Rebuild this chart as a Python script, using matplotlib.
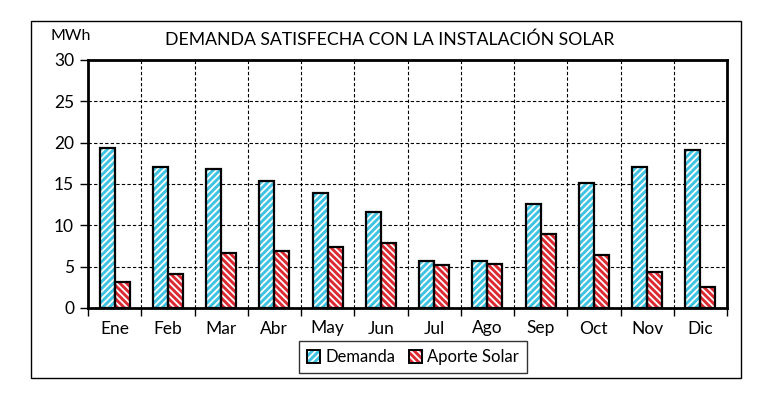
import matplotlib
matplotlib.use("Agg")
import matplotlib.pyplot as plt
from matplotlib.patches import Rectangle
from matplotlib.legend_handler import HandlerBase
import numpy as np

plt.rcParams['font.family'] = ['Lato', 'DejaVu Sans']
plt.rcParams['hatch.linewidth'] = 1.3

months = ["Ene", "Feb", "Mar", "Abr", "May", "Jun", "Jul", "Ago", "Sep", "Oct", "Nov", "Dic"]
demanda = [19.4, 17.0, 16.8, 15.4, 13.9, 11.65, 5.7, 5.7, 12.6, 15.15, 17.05, 19.15]
aporte = [3.2, 4.1, 6.6, 6.9, 7.4, 7.9, 5.2, 5.35, 9.0, 6.4, 4.3, 2.55]
series_names = ["Demanda", "Aporte Solar"]
yticks = [0, 5, 10, 15, 20, 25, 30]

W, H = 779, 417
fig = plt.figure(figsize=(W / 100, H / 100), dpi=100)

# outer frame
fig.patches.append(Rectangle((31 / W, 1 - 378 / H), 710 / W, 357 / H, transform=fig.transFigure,
                             fill=False, edgecolor='black', lw=1.0))

ax = fig.add_axes([88 / W, 1 - 308 / H, (727 - 88) / W, (308 - 60) / H])

x = np.arange(len(months))
bw = 0.28
cyan = '#3EC3E2'
red = '#DC2A32'
hatch_d = '/////'
hatch_a = '\\\\\\\\\\'

ax.bar(x - bw / 2, demanda, bw, color=cyan, edgecolor='white', hatch=hatch_d, lw=0, zorder=3)
ax.bar(x - bw / 2, demanda, bw, fill=False, edgecolor='black', lw=1.6, zorder=4)
ax.bar(x + bw / 2, aporte, bw, color=red, edgecolor='white', hatch=hatch_a, lw=0, zorder=3)
ax.bar(x + bw / 2, aporte, bw, fill=False, edgecolor='black', lw=1.6, zorder=4)

ax.set_xlim(-0.5, len(months) - 0.5)
ax.set_ylim(0, 30)
ax.set_yticks(yticks)
ax.set_yticklabels([str(v) for v in yticks], fontsize=12.5)
ax.set_xticks(x)
ax.set_xticklabels(months, fontsize=12.5)
ax.tick_params(axis='x', which='major', length=0, pad=9)
ax.set_xticks(np.arange(-0.5, len(months)), minor=True)
ax.tick_params(axis='x', which='minor', length=6, width=1.0, direction='out')
ax.tick_params(axis='y', length=6, width=1.0, direction='out', pad=4)

for v in yticks[1:-1]:
    ax.axhline(v, color='black', lw=0.8, ls=(0, (3, 2)), zorder=1)
for b in np.arange(0.5, len(months) - 0.5):
    ax.axvline(b, color='black', lw=0.8, ls=(0, (3, 2)), zorder=1)

for s in ax.spines.values():
    s.set_linewidth(2.0)

fig.text(390 / W, 1 - 40 / H, "DEMANDA SATISFECHA CON LA INSTALACIÓN SOLAR", ha='center', va='center', fontsize=12.7)
fig.text(71 / W, 1 - 36 / H, "MWh", ha='center', va='center', fontsize=11.5)


class HatchHandler(HandlerBase):
    def __init__(self, color, hatch):
        super().__init__()
        self.color = color
        self.hatch = hatch

    def create_artists(self, legend, orig_handle, xdescent, ydescent, width, height, fontsize, trans):
        r1 = Rectangle((-xdescent, -ydescent), width, height, facecolor=self.color,
                       edgecolor='white', hatch=self.hatch, lw=0, transform=trans)
        r2 = Rectangle((-xdescent, -ydescent), width, height, fill=False,
                       edgecolor='black', lw=1.4, transform=trans)
        return [r1, r2]


h1 = Rectangle((0, 0), 1, 1)
h2 = Rectangle((0, 0), 1, 1)
leg = fig.legend([h1, h2], series_names, loc='center', bbox_to_anchor=(413 / W, 1 - 357 / H),
                 ncol=2, fontsize=12, frameon=True, fancybox=False, edgecolor='black',
                 handlelength=0.8, handleheight=0.8, handletextpad=0.3, columnspacing=0.8,
                 borderpad=0.5,
                 handler_map={h1: HatchHandler(cyan, hatch_d), h2: HatchHandler(red, hatch_a)})
leg.get_frame().set_linewidth(1.0)

fig.savefig("out.png", dpi=100)
